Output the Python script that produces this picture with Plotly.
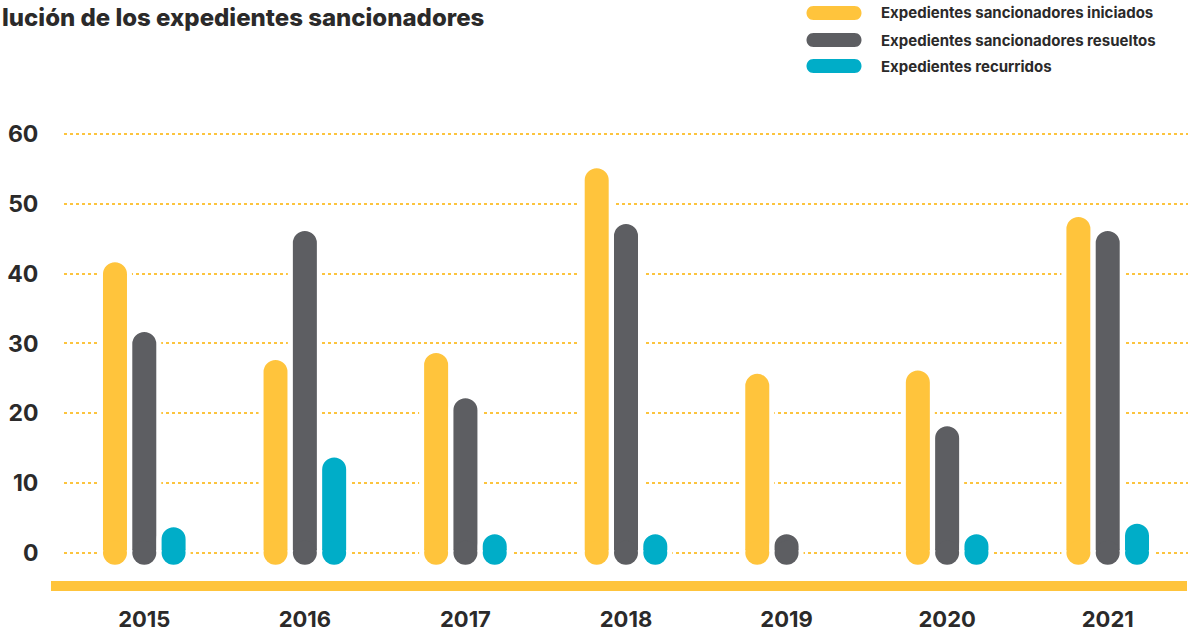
import plotly.graph_objects as go

# data
years = ['2015', '2016', '2017', '2018', '2019', '2020', '2021']
iniciados = [42, 28, 29, 55.5, 26, 26.5, 48.5]
resueltos = [32, 46.5, 22.5, 47.5, 3, 18.5, 46.5]
recurridos = [4, 14, 3, 3, None, 3, 4.5]
series_names = ['Expedientes sancionadores iniciados',
                'Expedientes sancionadores resueltos',
                'Expedientes recurridos']
yticks = [0, 10, 20, 30, 40, 50, 60]

colors = ['#FFC43C', '#5D5E62', '#00ADC8']
grid_col = '#FCC43E'
txt_col = '#2B2A2A'
FONT = 'Inter'

W, H = 1192, 640
L, R, T, B = 64, 4, 120, 54
pw, ph = W - L - R, H - T - B

def px_x(x):
    return (x - L) / pw

def px_y(y):
    return (H - B - y) / ph

offsets = [-0.1825, 0, 0.1825]
# 24px coloured bar + white halo (stroke of 5px, half of it inside)
bar_w = 29 / (pw / 7)

fig = go.Figure()
for vals, name, col, off in zip([iniciados, resueltos, recurridos], series_names, colors, offsets):
    xs = [i + off for i in range(len(years))]
    fig.add_trace(go.Bar(
        x=xs, y=vals, width=bar_w, name=name,
        marker=dict(color=col, cornerradius='50%', line=dict(width=5, color='white')),
        showlegend=False))
    # rounded bottom cap
    fig.add_trace(go.Scatter(
        x=xs, y=[0 if v is not None else None for v in vals],
        mode='markers', marker=dict(size=24, color=col, line=dict(width=0)),
        showlegend=False, hoverinfo='skip'))

fig.update_layout(
    width=W, height=H,
    margin=dict(l=L, r=R, t=T, b=B),
    paper_bgcolor='white', plot_bgcolor='white',
    barmode='overlay',
    font=dict(family=FONT, color=txt_col),
)

fig.update_xaxes(
    range=[-0.5, 6.5], tickvals=list(range(len(years))), ticktext=years,
    showgrid=False, zeroline=False, showline=False, automargin=False,
    ticks='outside', ticklen=14, tickcolor='rgba(0,0,0,0)',
    tickfont=dict(family=FONT, size=22, color=txt_col, weight=700),
)
fig.update_yaxes(
    range=[-4.78, 62.05], tickvals=yticks,
    showgrid=True, gridcolor=grid_col, gridwidth=2, griddash='dot',
    zeroline=False, showline=False, automargin=False,
    ticks='outside', ticklen=20, tickcolor='rgba(0,0,0,0)',
    tickfont=dict(family=FONT, size=23, color=txt_col, weight=700),
)

# thick yellow base line
fig.add_shape(type='line', xref='paper', yref='paper',
              x0=px_x(51), x1=px_x(1187), y0=0, y1=0,
              line=dict(color=colors[0], width=10), layer='below')

# title (cut at the left edge in the original)
fig.add_annotation(text='lución de los expedientes sancionadores',
                   xref='paper', yref='paper', x=px_x(0), y=px_y(17),
                   xanchor='left', yanchor='middle', showarrow=False,
                   font=dict(family=FONT, size=24, color=txt_col, weight=800))

# custom legend with pill markers
leg_y = [13, 40, 66]
for name, col, yy in zip(series_names, colors, leg_y):
    hw, r, k = 20.5, 7, 9.33
    path = (f'M {-hw},{-r} L {hw},{-r} C {hw + k},{-r} {hw + k},{r} {hw},{r} '
            f'L {-hw},{r} C {-hw - k},{r} {-hw - k},{-r} {-hw},{-r} Z')
    fig.add_shape(type='path', xref='paper', yref='paper',
                  xsizemode='pixel', ysizemode='pixel',
                  xanchor=px_x(834), yanchor=px_y(yy), path=path,
                  fillcolor=col, line=dict(width=0))
    fig.add_annotation(text=name, xref='paper', yref='paper',
                       x=px_x(879), y=px_y(yy), xanchor='left', yanchor='middle',
                       showarrow=False,
                       font=dict(family=FONT, size=15, color=txt_col, weight=700))

# drop the browser's default page margin so the figure sits at (0, 0)
fig.write_html('out.html', config={'displayModeBar': False},
               post_script="document.body.style.margin='0';")
